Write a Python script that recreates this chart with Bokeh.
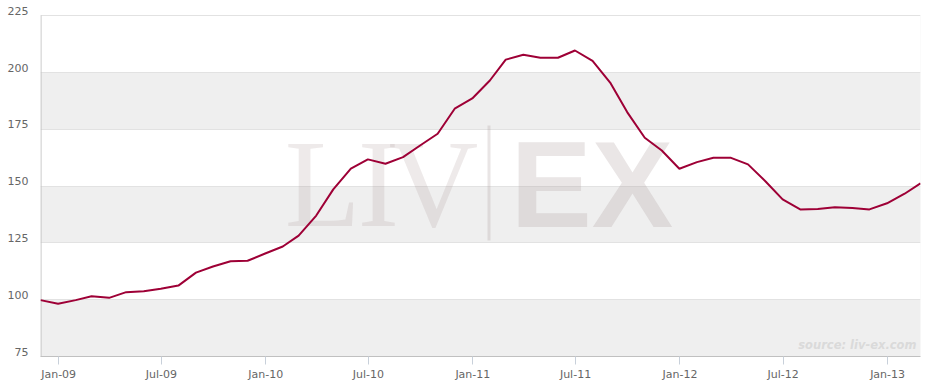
import pandas as pd
from bokeh.plotting import figure
from bokeh.models import (Range1d, FixedTicker, MonthsTicker, DatetimeTickFormatter,
                          BoxAnnotation, Label, ColumnDataSource, LinearAxis)
from bokeh.embed import file_html
from bokeh.resources import INLINE

# ---- data (monthly index) ----
months = pd.date_range("2008-12-01", periods=52, freq="MS") - pd.Timedelta(days=1)
index_values = [
    99.8, 98.2, 99.8, 101.5, 100.8, 103.3, 103.7, 104.8, 106.2, 111.9,
    114.6, 116.9, 117.1, 120.3, 123.4, 128.2, 137.0, 148.5, 157.6, 161.7,
    159.8, 162.7, 167.8, 173.0, 184.0, 188.5, 196.4, 205.6, 207.7, 206.4,
    206.4, 209.6, 205.0, 195.5, 182.5, 171.2, 165.6, 157.6, 160.5, 162.4,
    162.4, 159.5, 152.0, 144.1, 139.7, 139.9, 140.7, 140.3, 139.7, 142.4,
    146.6, 151.2,
]
y_ticks = [75, 100, 125, 150, 175, 200, 225]
band_ranges = [(75, 100), (125, 150), (175, 200)]
x_tick_months = [0, 6]
watermark_left = ["L", "I", "V"]
watermark_right = "EX"
source_note = "source: liv-ex.com"

Y_MIN, Y_MAX = y_ticks[0], y_ticks[-1]
Y_TOP = 227.2          # a little headroom so the top tick label fits above the 225 line
LABEL_SHIFT = 2.1      # tick labels sit slightly above their grid lines

src = ColumnDataSource(dict(date=months, value=index_values))

p = figure(width=933, height=391, x_axis_type="datetime",
           x_range=Range1d(months[0], months[-1]),
           y_range=Range1d(Y_MIN, Y_TOP),
           output_backend="svg", toolbar_location=None,
           min_border_left=40, min_border_right=13,
           min_border_top=10, min_border_bottom=35)
p.background_fill_color = "white"
p.border_fill_color = "white"
p.outline_line_color = None

# alternating bands
for lo, hi in band_ranges:
    p.add_layout(BoxAnnotation(bottom=lo, top=hi, fill_color="#EFEFEF", fill_alpha=1,
                               line_alpha=0, level="image"))
# plot border (top/right) and left axis line
p.add_layout(BoxAnnotation(bottom=Y_MIN, top=Y_MAX, fill_alpha=0,
                           line_color="#E2E2E2", line_width=1, level="image"))
p.add_layout(BoxAnnotation(bottom=Y_MIN, top=Y_MAX, left=0, right=1,
                           left_units="screen", right_units="screen",
                           fill_color="#C0C0C0", fill_alpha=1, line_alpha=0,
                           level="underlay"))

# grid
p.xgrid.visible = False
p.ygrid.ticker = FixedTicker(ticks=y_ticks)
p.ygrid.grid_line_color = "#E2E2E2"
p.ygrid.grid_line_width = 1

# watermark
wm_color = "#A89898"
for txt, xs in zip(watermark_left, [282, 338, 393]):
    p.add_layout(Label(x=xs, y=172, x_units="screen", y_units="screen", text=txt,
                       text_font="Liberation Serif", text_font_size="124px",
                       text_align="center", text_baseline="alphabetic",
                       text_color=wm_color, text_alpha=0.2, level="underlay"))
p.add_layout(BoxAnnotation(left=447, right=450, bottom=116, top=231,
                           left_units="screen", right_units="screen",
                           bottom_units="screen", top_units="screen",
                           fill_color=wm_color, fill_alpha=0.25, line_alpha=0,
                           level="underlay"))
p.add_layout(Label(x=470, y=172, x_units="screen", y_units="screen", text=watermark_right,
                   text_font="Liberation Sans", text_font_style="bold",
                   text_font_size="122px", text_align="left", text_baseline="alphabetic",
                   text_color=wm_color, text_alpha=0.24, level="underlay"))

# line
p.line("date", "value", source=src, line_color="#9E0036", line_width=2)

# source note
p.add_layout(Label(x=876, y=12, x_units="screen", y_units="screen", text=source_note,
                   text_font="DejaVu Sans", text_font_style="bold italic",
                   text_font_size="11.5px", text_align="right", text_baseline="alphabetic",
                   text_color="#DADADA"))

# y axis: hidden main axis, label axis on a slightly shifted range
p.yaxis.visible = False
p.extra_y_ranges = {"lab": Range1d(Y_MIN - LABEL_SHIFT, Y_TOP - LABEL_SHIFT)}
lab_axis = LinearAxis(y_range_name="lab", ticker=FixedTicker(ticks=y_ticks))
lab_axis.axis_line_color = None
lab_axis.major_tick_line_color = None
lab_axis.minor_tick_line_color = None
lab_axis.major_tick_out = 0
lab_axis.major_tick_in = 0
lab_axis.major_label_standoff = 12
lab_axis.major_label_text_font = "DejaVu Sans"
lab_axis.major_label_text_font_size = "11px"
lab_axis.major_label_text_color = "#666666"
p.add_layout(lab_axis, "left")

# x axis
p.xaxis.ticker = MonthsTicker(months=x_tick_months)
p.xaxis.formatter = DatetimeTickFormatter(months="%b-%y", years="%b-%y", days="%b-%y")
p.xaxis.major_tick_out = 8
p.xaxis.major_tick_in = 0
p.xaxis.major_tick_line_color = "#C8D0DA"
p.xaxis.minor_tick_line_color = None
p.xaxis.major_label_standoff = 3
p.xaxis.axis_line_color = "#C0C0C0"
p.xaxis.major_label_text_font = "DejaVu Sans"
p.xaxis.major_label_text_font_size = "11px"
p.xaxis.major_label_text_color = "#666666"

open("out.html", "w").write(file_html(p, INLINE))
